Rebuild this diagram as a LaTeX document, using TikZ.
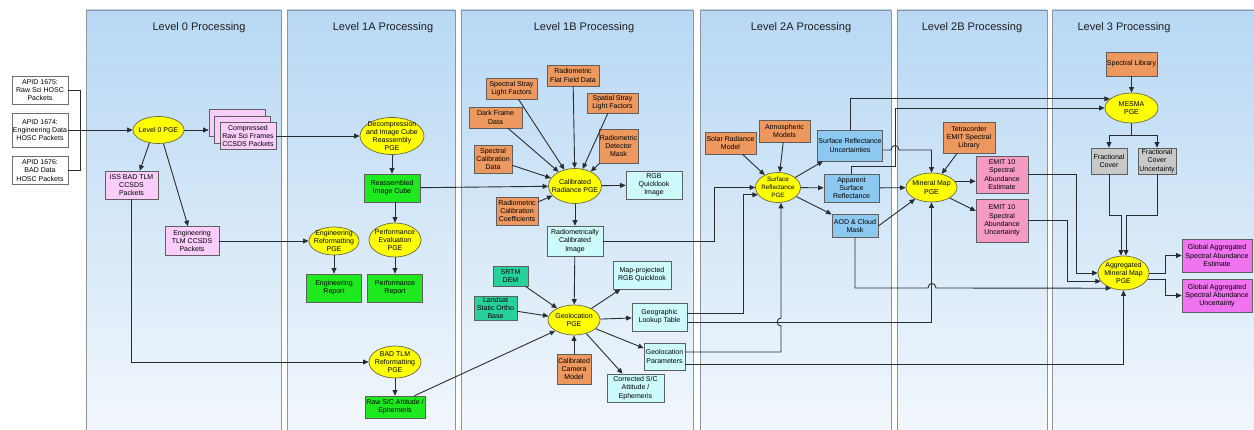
\documentclass[tikz,border=0pt]{standalone}
\usepackage{fontspec}
\setmainfont{Liberation Sans}
\usetikzlibrary{shapes.geometric,arrows.meta,positioning}
\definecolor{paneltop}{RGB}{184,216,244}
\definecolor{panelbot}{RGB}{242,247,252}
\definecolor{panelline}{RGB}{140,148,156}
\definecolor{titletext}{RGB}{30,30,30}
\definecolor{boxline}{RGB}{95,95,95}
\definecolor{inline}{RGB}{110,110,110}
\definecolor{pgeyellow}{RGB}{255,255,0}
\definecolor{pgeline}{RGB}{105,105,70}
\definecolor{lzpink}{RGB}{250,205,250}
\definecolor{prodgreen}{RGB}{30,232,30}
\definecolor{ancorange}{RGB}{236,152,94}
\definecolor{lbcyan}{RGB}{205,250,250}
\definecolor{demteal}{RGB}{40,208,155}
\definecolor{ltwoblue}{RGB}{140,200,240}
\definecolor{emitrose}{RGB}{245,155,195}
\definecolor{globmag}{RGB}{240,115,240}
\definecolor{fracgray}{RGB}{200,200,200}
\definecolor{linkcol}{RGB}{40,45,50}
\newcommand\bxfont{\fontsize{7}{8.2}\selectfont}
\newcommand\smbxfont{\fontsize{6.3}{7.8}\selectfont}
\tikzset{
  panel/.style={draw=panelline, line width=0.6pt, top color=paneltop, bottom color=panelbot},
  ptitle/.style={font=\fontsize{11}{13}\selectfont, text=titletext},
  bx/.style={rectangle, draw=boxline, line width=0.6pt, align=center, inner sep=1pt, font=\bxfont},
  pge/.style={ellipse, draw=pgeline, fill=pgeyellow, line width=0.7pt, align=center, inner sep=-30pt, font=\bxfont},
  inbox/.style={bx, fill=white, draw=inline},
  lzbox/.style={bx, fill=lzpink},
  grbox/.style={bx, fill=prodgreen},
  ogbox/.style={bx, fill=ancorange},
  cybox/.style={bx, fill=lbcyan},
  tlbox/.style={bx, fill=demteal},
  blbox/.style={bx, fill=ltwoblue},
  rsbox/.style={bx, fill=emitrose},
  mgbox/.style={bx, fill=globmag},
  gybox/.style={bx, fill=fracgray},
  link/.style={draw=linkcol, line width=0.9pt},
  >={Triangle[length=5.5pt,width=4.8pt]}
}
\begin{document}
\begin{tikzpicture}[x=1pt,y=-1pt]
	\useasboundingbox (0,0) rectangle (1254,430);
	\fill[white] (0,0) rectangle (1254,430);
	% processing levels
	\path[panel] (86,10) rectangle (281,433);
	\path[panel] (287,10) rectangle (455,433);
	\path[panel] (461,10) rectangle (693,433);
	\path[panel] (700,10) rectangle (891,433);
	\path[panel] (897,10) rectangle (1047,433);
	\path[panel] (1052,10) rectangle (1256,433);
	\node[ptitle] (ttl0) at (199,28) {Level 0 Processing};
	\node[ptitle] (ttl1a) at (383,28) {Level 1A Processing};
	\node[ptitle] (ttl1b) at (584,28) {Level 1B Processing};
	\node[ptitle] (ttl2a) at (801,28) {Level 2A Processing};
	\node[ptitle] (ttl2b) at (972,28) {Level 2B Processing};
	\node[ptitle] (ttl3) at (1124,28) {Level 3 Processing};
	%
	\node[inbox, minimum width=56, minimum height=28] (apsci) at (40,90) {APID 1675:\\Raw Sci HOSC\\Packets};
	\node[inbox, minimum width=56, minimum height=34] (apeng) at (40,130) {APID 1674:\\Engineering Data\\HOSC Packets};
	\node[inbox, minimum width=56, minimum height=28] (apbad) at (40,170.5) {APID 1676:\\BAD Data\\HOSC Packets};
	% level 0
	\node[pge, minimum width=51, minimum height=27] (lzpge) at (158.5,130) {Level 0 PGE};
	\node[lzbox, minimum width=56, minimum height=27] (cmpback) at (237,123) {};
	\node[lzbox, minimum width=56, minimum height=27] (cmpmid) at (242.5,129.5) {};
	\node[lzbox, minimum width=56, minimum height=27] (cmpfront) at (248,136) {Compressed\\Raw Sci Frames\\CCSDS Packets};
	\node[lzbox, minimum width=53, minimum height=28] (issbad) at (131.5,185) {ISS BAD TLM\\CCSDS\\Packets};
	\node[lzbox, minimum width=54, minimum height=29] (engtlm) at (192,241) {Engineering\\TLM CCSDS\\Packets};
	% level 1A
	\node[pge, minimum width=64, minimum height=37] (decomp) at (392,136) {Decompression\\and Image Cube\\Reassembly\\PGE};
	\node[grbox, minimum width=56, minimum height=28] (reasm) at (392,188) {Reassembled\\Image Cube};
	\node[pge, minimum width=50, minimum height=28] (engpge) at (334,241) {Engineering\\Reformatting\\PGE};
	\node[pge, minimum width=52, minimum height=34] (perfpge) at (395,240) {Performance\\Evaluation\\PGE};
	\node[grbox, minimum width=55, minimum height=28] (engrep) at (334,288) {Engineering\\Report};
	\node[grbox, minimum width=55, minimum height=28] (perfrep) at (395,288) {Performance\\Report};
	\node[pge, minimum width=52, minimum height=32] (badpge) at (395,362) {BAD TLM\\Reformatting\\PGE};
	\node[grbox, minimum width=60, minimum height=22] (rawsc) at (395,407) {Raw S/C Attitude /\\Ephemeris};
	% level 1B
	\node[ogbox, minimum width=52, minimum height=21] (flatfld) at (573,75.5) {Radiometric\\Flat Field Data};
	\node[ogbox, minimum width=51, minimum height=21] (specstray) at (511.5,88.5) {Spectral Stray\\Light Factors};
	\node[ogbox, minimum width=51, minimum height=20] (spatstray) at (612.5,103) {Spatial Stray\\Light Factors};
	\node[ogbox, minimum width=53, minimum height=21] (darkfrm) at (495.5,117.5) {Dark Frame\\Data};
	\node[ogbox, minimum width=39, minimum height=34] (detmask) at (618.5,146) {Radiometric\\Detector\\Mask};
	\node[ogbox, minimum width=38, minimum height=28] (speccal) at (493,159) {Spectral\\Calibration\\Data};
	\node[pge, minimum width=53, minimum height=35] (calrad) at (575,186) {Calibrated\\Radiance PGE};
	\node[cybox, minimum width=56, minimum height=28] (rgbql) at (654,185) {RGB\\Quicklook\\Image};
	\node[ogbox, minimum width=42, minimum height=28] (radcoef) at (517,211) {Radiometric\\Calibration\\Coefficients};
	\node[cybox, minimum width=56, minimum height=30] (radimg) at (575,241) {Radiometrically\\Calibrated\\Image};
	\node[tlbox, minimum width=35, minimum height=20] (srtm) at (510.5,276) {SRTM\\DEM};
	\node[tlbox, minimum width=43, minimum height=24] (landsat) at (495.5,308) {Landsat\\Static Ortho\\Base};
	\node[pge, minimum width=52, minimum height=30] (geoloc) at (574,320) {Geolocation\\PGE};
	\node[cybox, minimum width=58, minimum height=28] (mapql) at (642,275) {Map-projected\\RGB Quicklook};
	\node[cybox, minimum width=55, minimum height=28] (glut) at (659.5,317) {Geographic\\Lookup Table};
	\node[cybox, minimum width=41, minimum height=27] (gparam) at (664.5,356.5) {Geolocation\\Parameters};
	\node[cybox, minimum width=57, minimum height=28] (corrsc) at (635.5,388) {Corrected S/C\\Attitude /\\Ephemeris};
	\node[ogbox, minimum width=34, minimum height=30] (camera) at (574,369) {Calibrated\\Camera\\Model};
	% level 2A
	\node[ogbox, minimum width=51, minimum height=22] (solar) at (730.5,143) {Solar Radiance\\Model};
	\node[ogbox, minimum width=51, minimum height=22] (atmos) at (784.5,131) {Atmospheric\\Models};
	\node[pge, minimum width=45, minimum height=30, font=\smbxfont] (srpge) at (778,187.5) {Surface\\Reflectance\\PGE};
	\node[blbox, minimum width=64, minimum height=31] (sru) at (850,145.5) {Surface Reflectance\\Uncertainties};
	\node[blbox, minimum width=55, minimum height=28] (asr) at (851.5,188) {Apparent\\Surface\\Reflectance};
	\node[blbox, minimum width=46, minimum height=23] (aod) at (855,226) {AOD \& Cloud\\Mask};
	% level 2B
	\node[ogbox, minimum width=52, minimum height=31] (tetra) at (969,137.5) {Tetracorder\\EMIT Spectral\\Library};
	\node[pge, minimum width=51, minimum height=29] (minpge) at (931.5,187.5) {Mineral Map\\PGE};
	\node[rsbox, minimum width=52, minimum height=37] (emitest) at (1002,174.5) {EMIT 10\\Spectral\\Abundance\\Estimate};
	\node[rsbox, minimum width=52, minimum height=43] (emitunc) at (1002,220.5) {EMIT 10\\Spectral\\Abundance\\Uncertainty};
	% level 3
	\node[ogbox, minimum width=51, minimum height=24] (speclib) at (1131.5,64) {Spectral Library};
	\node[pge, minimum width=53, minimum height=30] (mesma) at (1131.5,108) {MESMA\\PGE};
	\node[gybox, minimum width=36, minimum height=26] (fcov) at (1109,161) {Fractional\\Cover};
	\node[gybox, minimum width=38, minimum height=26] (fcunc) at (1157,161) {Fractional\\Cover\\Uncertainty};
	\node[pge, minimum width=51, minimum height=34] (agg) at (1123.5,273) {Aggregated\\Mineral Map\\PGE};
	\node[mgbox, minimum width=70, minimum height=33] (globest) at (1217,255.5) {Global Aggregated\\Spectral Abundance\\Estimate};
	\node[mgbox, minimum width=70, minimum height=33] (globunc) at (1217,295.5) {Global Aggregated\\Spectral Abundance\\Uncertainty};
	%
	\draw[link] (apsci.east) -- ++(12,0) |- (apbad.east);
	\draw[link,->] (apeng.east) -- (lzpge.west);
	\draw[link,->] (lzpge.east) -- (lzpge.east -| cmpback.west);
	\draw[link,->] (lzpge.235) -- (issbad.60);
	\draw[link,->] (lzpge.290) -- (engtlm.105);
	\draw[link,->] (cmpfront.east) -- (decomp.west);
	\draw[link,->] (issbad.south) |- (badpge.west);
	\draw[link,->] (engtlm.east) -- (engpge.west);
	%
	\draw[link,->] (decomp) -- (reasm);
	\draw[link,->] (reasm) -- (calrad);
	\draw[link,->] (perfpge.north |- reasm.south) -- (perfpge);
	\draw[link,->] (engpge) -- (engrep);
	\draw[link,->] (perfpge) -- (perfrep);
	\draw[link,->] (badpge) -- (rawsc);
	\draw[link,->] (rawsc.30) -- (geoloc.210);
	%
	\draw[link,->] (flatfld) -- (calrad);
	\draw[link,->] (specstray) -- (calrad);
	\draw[link,->] (spatstray) -- (calrad);
	\draw[link,->] (darkfrm) -- (calrad);
	\draw[link,->] (detmask) -- (calrad);
	\draw[link,->] (speccal) -- (calrad);
	\draw[link,->] (radcoef) -- (calrad);
	\draw[link,->] (calrad) -- (rgbql);
	\draw[link,->] (calrad) -- (radimg);
	\draw[link,->] (radimg) -- (geoloc);
	\draw[link,->] (srtm) -- (geoloc);
	\draw[link,->] (landsat) -- (geoloc);
	\draw[link,->] (camera) -- (geoloc);
	\draw[link,->] (geoloc) -- (mapql);
	\draw[link,->] (geoloc) -- (glut);
	\draw[link,->] (geoloc) -- (gparam);
	\draw[link,->] (geoloc) -- (corrsc);
	%
	\draw[link,->] (radimg.east) -- (radimg.east -| 714,0) |- (srpge.west);
	\draw[link,->] (glut.east |- 0,313) -- (743,313) |- (srpge.200);
	\draw[link,->] (glut.east |- 0,322) -| (minpge.south);
	\draw[link,->] (gparam.east |- 0,352) -- (781,352) -- (781,326) .. controls (776,326) and (776,318) .. (781,318) -- (srpge.south -| 781,0);
	\draw[link,->] (gparam.east |- 0,364) -| (agg.south);
	%
	\draw[link,->] (solar) -- (srpge);
	\draw[link,->] (atmos) -- (srpge);
	\draw[link,->] (srpge) -- (sru);
	\draw[link,->] (srpge) -- (asr);
	\draw[link,->] (srpge) -- (aod);
	\draw[link,->] (sru.north) |- (mesma.157);
	\draw[link,->] (asr.north) |- (895,166) |- (mesma.west);
	\draw[link,->] (sru.east |- 0,150) -- (891,150) .. controls (891,144) and (899,144) .. (899,150) -| (minpge.north);
	\draw[link,->] (asr) -- (minpge);
	\draw[link,->] (aod.east) -- (minpge.215);
	\draw[link,->] (aod.south) |- (928,288) .. controls (928,282) and (936,282) .. (936,288) -- (agg.231);
	%
	\draw[link,->] (tetra) -- (minpge);
	\draw[link,->] (minpge.15) -- (minpge.15 -| emitest.west);
	\draw[link,->] (minpge.330) -- (emitunc.160);
	\draw[link,->] (emitest.east) -- (emitest.east -| 1076,0) |- (agg.west);
	\draw[link,->] (emitunc.east) -- (emitunc.east -| 1067,0) |- (agg.200);
	%
	\draw[link,->] (speclib) -- (mesma);
	\draw[link,->] (mesma.south) -- ++(0,12) -| (fcov.north);
	\draw[link,->] (mesma.south) -- ++(0,12) -| (fcunc.north);
	\draw[link,->] (fcov.south) |- (1121,215) -- (agg.north -| 1121,0);
	\draw[link,->] (fcunc.south) |- (1126,215) -- (agg.north -| 1126,0);
	\draw[link,->] (agg.east) -- ++(16,0) |- (globest.west);
	\draw[link,->] (agg.345) -- (agg.345 -| 1165,0) |- (globunc.west);
\end{tikzpicture}
\end{document}
